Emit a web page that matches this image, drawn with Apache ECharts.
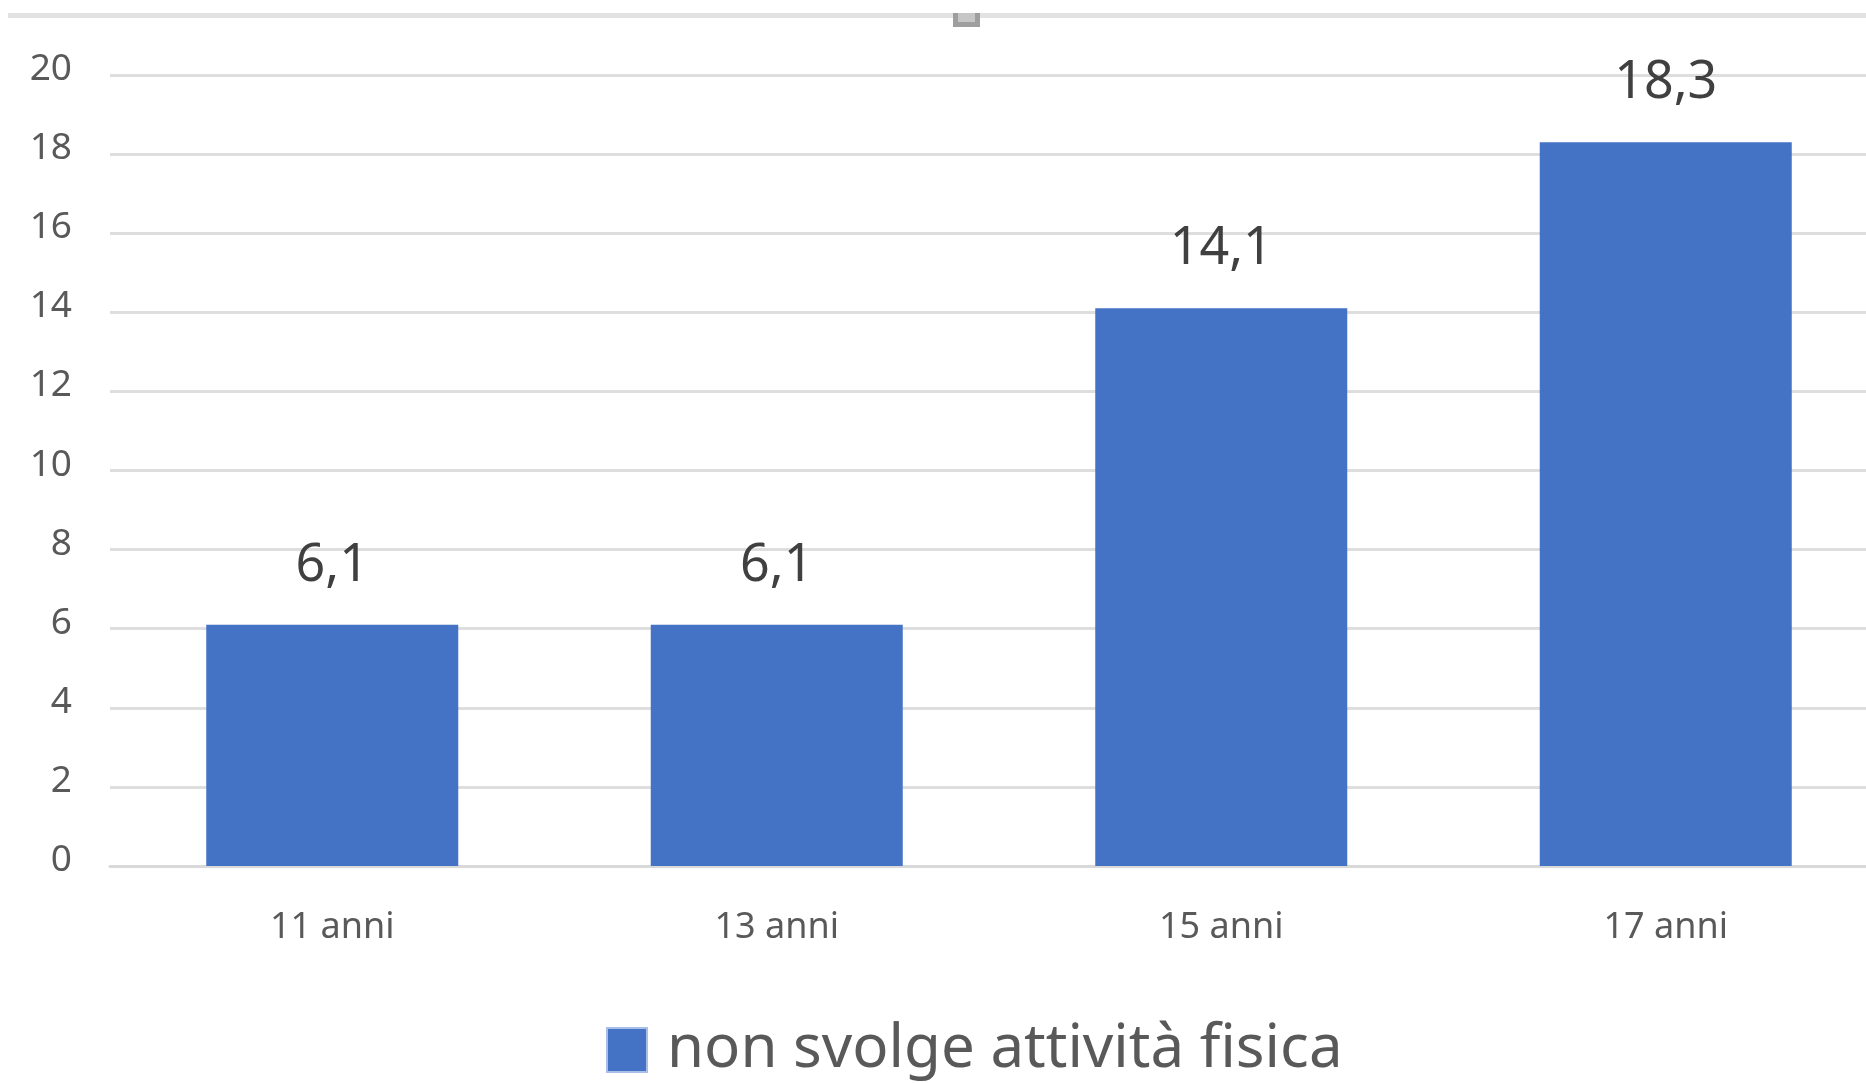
<!DOCTYPE html>
<html>
<head>
<meta charset="utf-8">
<title>non svolge attività fisica</title>
<script src="https://cdn.jsdelivr.net/npm/echarts@6/dist/echarts.min.js"></script>
<style>
  html, body { margin: 0; padding: 0; background: #ffffff; }
  #chart { width: 1866px; height: 1083px; }
</style>
</head>
<body>
<div id="chart"></div>
<script>
// Age groups and share (%) of those who do no physical activity
const categories = ['11 anni', '13 anni', '15 anni', '17 anni'];
const values = [6.1, 6.1, 14.1, 18.3];
const seriesName = 'non svolge attività fisica';

// Value axis range
const yMin = 0;
const yMax = 20;
const yStep = 2;

const FONT = '"Noto Sans", "DejaVu Sans", sans-serif';

const chart = echarts.init(document.getElementById('chart'), null, { renderer: 'canvas' });

chart.setOption({
  backgroundColor: '#ffffff',
  animation: false,
  grid: {
    left: 110,
    top: 75,
    right: -22,
    bottom: 217,
    containLabel: false,
    outerBoundsMode: 'none'
  },
  legend: {
    data: [seriesName],
    left: 601,
    top: 1015,
    icon: 'rect',
    itemWidth: 40,
    itemHeight: 44,
    itemStyle: { borderColor: '#a9bfe8', borderWidth: 2 },
    textStyle: {
      fontFamily: FONT,
      fontSize: 60,
      color: '#595959',
      padding: [0, 0, 0, 15]
    }
  },
  xAxis: {
    type: 'category',
    data: categories,
    boundaryGap: true,
    axisLine: { show: true, lineStyle: { color: '#d9d9d9', width: 3 } },
    axisTick: { show: false },
    axisLabel: {
      fontFamily: FONT,
      fontSize: 36,
      color: '#595959',
      margin: 44
    }
  },
  yAxis: {
    type: 'value',
    min: yMin,
    max: yMax,
    interval: yStep,
    axisLine: { show: false },
    axisTick: { show: false },
    splitLine: { lineStyle: { color: '#dedede', width: 3 } },
    axisLabel: {
      margin: 38,
      formatter: v => '{t|' + v + '}',
      rich: {
        t: {
          fontFamily: FONT,
          fontSize: 37,
          color: '#595959',
          padding: [0, 0, 11, 0]
        }
      }
    }
  },
  series: [{
    name: seriesName,
    type: 'bar',
    data: values,
    barWidth: 252,
    itemStyle: { color: '#4472c4' },
    label: {
      show: true,
      position: 'top',
      distance: 33,
      fontFamily: FONT,
      fontSize: 52,
      color: '#404040',
      formatter: p => p.value.toFixed(1).replace('.', ',')
    }
  }],
  graphic: [
    // frame edge along the top of the chart area
    { type: 'rect', shape: { x: 8, y: 13, width: 1858, height: 5 }, style: { fill: '#e2e2e2' }, silent: true },
    // small sizing handle on the frame
    { type: 'rect', shape: { x: 953, y: 13, width: 27, height: 14 }, style: { fill: '#9e9e9e' }, silent: true },
    { type: 'rect', shape: { x: 958, y: 13, width: 17, height: 9 }, style: { fill: '#c6c6c6' }, silent: true }
  ]
});
</script>
</body>
</html>
